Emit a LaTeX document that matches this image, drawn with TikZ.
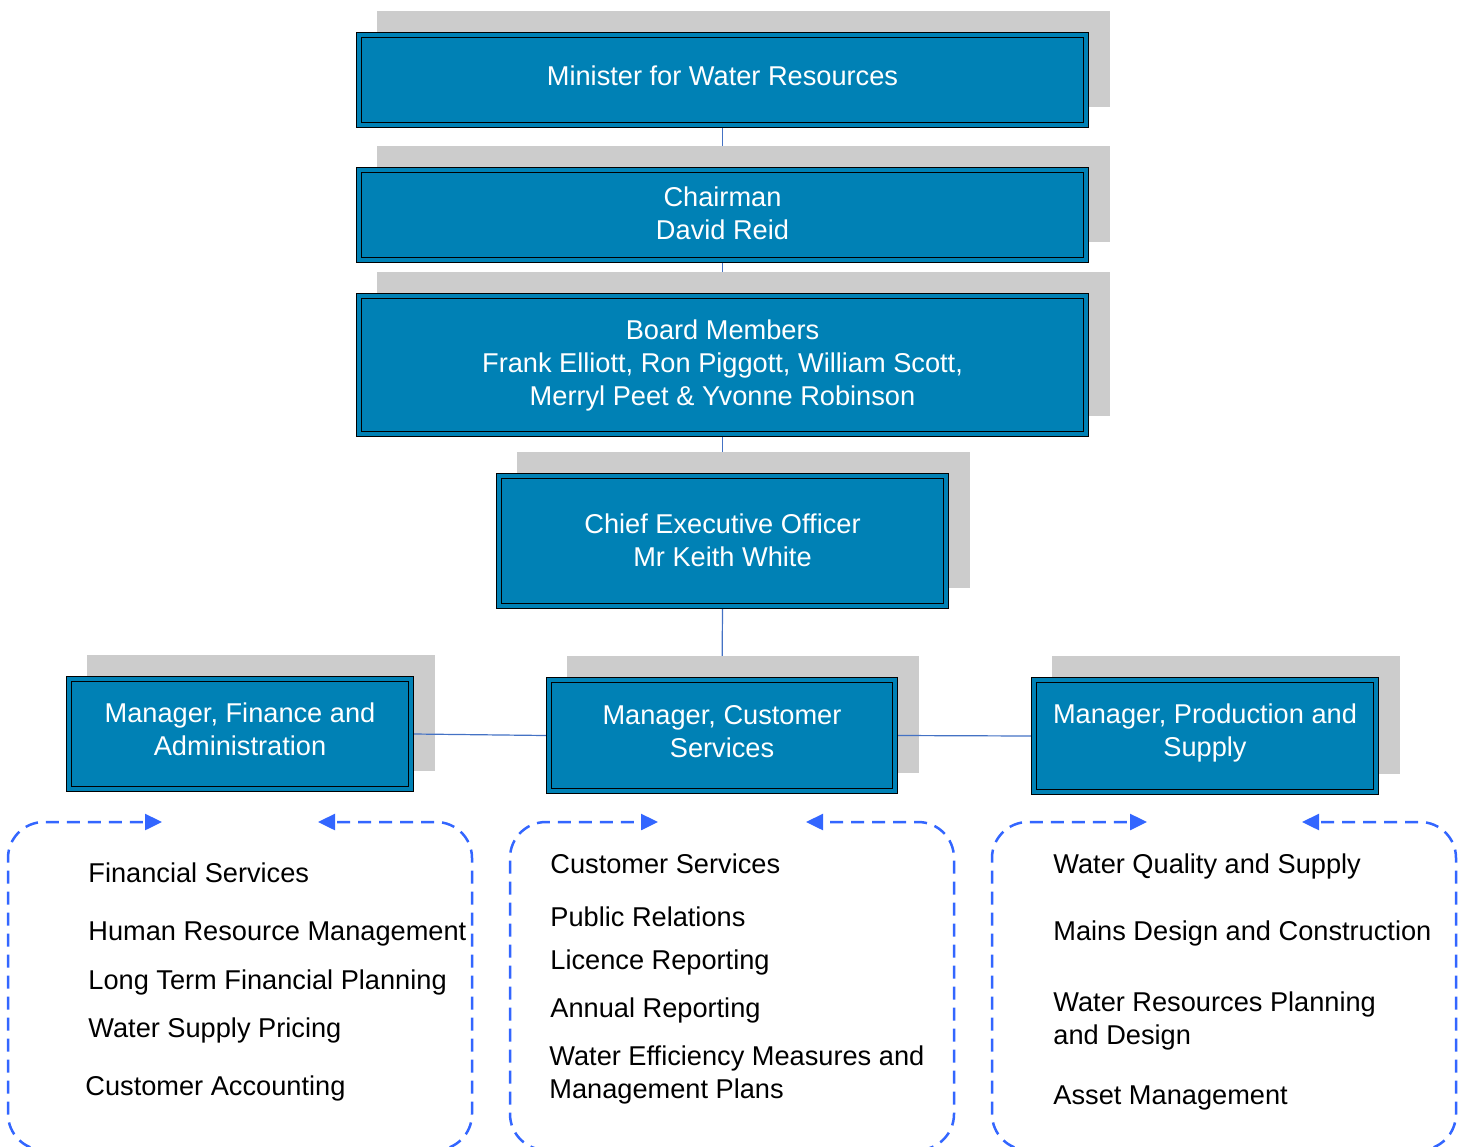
\documentclass[tikz,border=0pt]{standalone}
\usepackage{fontspec}
\setmainfont{Liberation Sans}
\usetikzlibrary{arrows.meta,backgrounds}
\definecolor{boxblue}{RGB}{0,129,181}
\definecolor{shadegrey}{RGB}{204,204,204}
\definecolor{linkblue}{RGB}{68,114,196}
\definecolor{zoneblue}{RGB}{51,102,255}
\begin{document}
\begin{tikzpicture}[x=0.5pt,y=-0.5pt,
  font=\fontsize{13.6pt}{16.5pt}\selectfont,
  post/.style={draw=black, line width=0.7pt, double=boxblue, double distance=1.6pt,
    fill=boxblue, text=white, align=center, inner sep=0pt, outer sep=1.5pt},
  link/.style={draw=linkblue, line width=0.6pt},
  zone/.style={draw=zoneblue, line width=1.25pt, dash pattern=on 6.5pt off 4pt,
    rounded corners=18pt, -{Triangle[length=8.5pt,width=8pt]}},
  item/.style={anchor=base west, inner sep=0pt, align=left}
]
\useasboundingbox (0,0) rectangle (1466,1146);

% posts
\node[post, minimum width=363.5pt, minimum height=45pt, text depth=4pt] (min) at (722.5,80) {Minister for Water Resources};
\node[post, minimum width=363.5pt, minimum height=45pt, text depth=1.5pt] (chair) at (722.5,215) {Chairman\\David Reid};
\node[post, minimum width=363.5pt, minimum height=69pt] (board) at (722.5,365) {Board Members\\Frank Elliott, Ron Piggott, William Scott,\\Merryl Peet \& Yvonne Robinson};
\node[post, minimum width=223.5pt, minimum height=65pt, text depth=1pt] (ceo) at (722.5,541) {Chief Executive Officer\\Mr Keith White};
\node[post, minimum width=171pt, minimum height=55pt, text depth=4.5pt] (fin) at (240,734) {Manager, Finance and\\Administration};
\node[post, minimum width=173pt, minimum height=55.5pt, text depth=4.5pt] (cust) at (722,735.5) {Manager, Customer\\Services};
\node[post, minimum width=171pt, minimum height=56pt, text depth=5.4pt] (prod) at (1205,736) {Manager, Production and\\Supply};

\begin{scope}[on background layer]
  % reporting lines down the chain
  \draw[link] (min.south) -- (chair.north);
  \draw[link] (chair.south) -- (board.north);
  \draw[link] (board.south) -- (ceo.north);
  \draw[link] (ceo.south) -- (cust.north);
  % shadows behind the posts
  \foreach \n in {min,chair,board,ceo,fin,cust,prod}
    \fill[shadegrey] ([shift={(21,-21)}]\n.south west) rectangle ([shift={(21,-21)}]\n.north east);
  % lines between the managers, over the shadows
  \draw[link] (fin.east) -- (cust.west);
  \draw[link] (cust.east) -- (prod.west);
\end{scope}

% dashed areas under each manager
\begin{scope}
  \clip (0,0) rectangle (1466,1146);
  \draw[zone] (240,1150) -- (8,1150) -- (8,822) -- (162,822);
  \draw[zone] (240,1150) -- (472,1150) -- (472,822) -- (318,822);
  \draw[zone] (732,1150) -- (510,1150) -- (510,822) -- (658,822);
  \draw[zone] (732,1150) -- (954,1150) -- (954,822) -- (806,822);
  \draw[zone] (1224,1150) -- (992,1150) -- (992,822) -- (1147,822);
  \draw[zone] (1224,1150) -- (1456,1150) -- (1456,822) -- (1302,822);
\end{scope}

% finance and administration
\node[item] (f1) at (88,882) {Financial Services};
\node[item] (f2) at (88,940) {Human Resource Management};
\node[item] (f3) at (88,989) {Long Term Financial Planning};
\node[item] (f4) at (88,1037) {Water Supply Pricing};
\node[item] (f5) at (85,1095) {Customer Accounting};

% customer services
\node[item] (c1) at (550,873) {Customer Services};
\node[item] (c2) at (550,926) {Public Relations};
\node[item] (c3) at (550,969) {Licence Reporting};
\node[item] (c4) at (550,1017) {Annual Reporting};
\node[item] (c5) at (549,1098) {Water Efficiency Measures and\\Management Plans};

% production and supply
\node[item] (p1) at (1053,873) {Water Quality and Supply};
\node[item] (p2) at (1053,940) {Mains Design and Construction};
\node[item] (p3) at (1053,1044) {Water Resources Planning\\and Design};
\node[item] (p4) at (1053,1104) {Asset Management};
\end{tikzpicture}
\end{document}
